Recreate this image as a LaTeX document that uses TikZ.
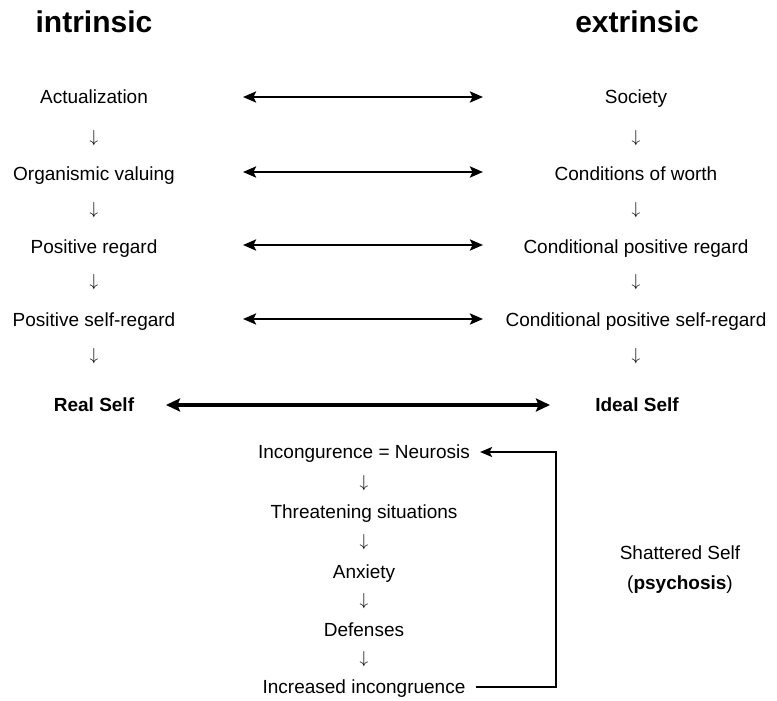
\documentclass[tikz,border=0pt]{standalone}
\usepackage{fontspec}
\setmainfont{Liberation Sans}
\usetikzlibrary{arrows.meta}

\begin{document}
\begin{tikzpicture}[x=1pt,y=-1pt,
  every node/.style={font=\fontsize{19}{22}\selectfont, inner sep=2pt, text depth=0pt, text height=13pt},
  head/.style={font=\fontsize{30}{34}\selectfont\bfseries, text height=21pt},
  self/.style={font=\fontsize{19}{22}\selectfont\bfseries},
  arrowdown/.style={text height=, text depth=},
  link/.style={{Stealth[length=13pt,width=11pt,inset=2.5pt]}-{Stealth[length=13pt,width=11pt,inset=2.5pt]}, line width=2.4pt},
  biglink/.style={{Stealth[length=14pt,width=13pt,inset=2.5pt]}-{Stealth[length=14pt,width=13pt,inset=2.5pt]}, line width=4.4pt},
  back/.style={-{Stealth[length=12pt,width=10pt,inset=2.5pt]}, line width=1.4pt}]

\useasboundingbox (0,0) rectangle (777,701);

\node[head] (intr) at (94,22) {intrinsic};
\node[head] (extr) at (637,22) {extrinsic};

% left column
\node (act) at (94,97) {Actualization};
\node[arrowdown] (l1) at (94,138) {$\downarrow$};
\node (org) at (94,174) {Organismic valuing};
\node[arrowdown] (l2) at (94,210) {$\downarrow$};
\node (pos) at (94,247) {Positive regard};
\node[arrowdown] (l3) at (94,282) {$\downarrow$};
\node (psr) at (94,320) {Positive self-regard};
\node[arrowdown] (l4) at (94,356) {$\downarrow$};
\node[self] (real) at (94,405) {Real Self};

% right column
\node (soc) at (636,97) {Society};
\node[arrowdown] (r1) at (636,138) {$\downarrow$};
\node (cow) at (636,174) {Conditions of worth};
\node[arrowdown] (r2) at (636,210) {$\downarrow$};
\node (cpr) at (636,247) {Conditional positive regard};
\node[arrowdown] (r3) at (636,282) {$\downarrow$};
\node (cpsr) at (636,320) {Conditional positive self-regard};
\node[arrowdown] (r4) at (636,356) {$\downarrow$};
\node[self] (ideal) at (637,405) {Ideal Self};

\coordinate (a1) at (243,97);  \coordinate (b1) at (483,97);
\coordinate (a2) at (243,172); \coordinate (b2) at (483,172);
\coordinate (a3) at (243,245); \coordinate (b3) at (483,245);
\coordinate (a4) at (243,319); \coordinate (b4) at (483,319);
\coordinate (a5) at (166,405); \coordinate (b5) at (550,405);

\draw[link] (a1) -- (b1);
\draw[link] (a2) -- (b2);
\draw[link] (a3) -- (b3);
\draw[link] (a4) -- (b4);
\draw[biglink] (a5) -- (b5);

% incongruence cycle
\node (neur) at (364,452) {Incongurence = Neurosis};
\node[arrowdown] (m1) at (364,483) {$\downarrow$};
\node (thr) at (364,512) {Threatening situations};
\node[arrowdown] (m2) at (364,542) {$\downarrow$};
\node (anx) at (364,572) {Anxiety};
\node[arrowdown] (m3) at (364,601) {$\downarrow$};
\node (def) at (364,630) {Defenses};
\node[arrowdown] (m4) at (364,659) {$\downarrow$};
\node (incr) at (364,687) {Increased incongruence};

\node[align=center, font=\fontsize{19}{30}\selectfont, text height=, text depth=] (shat) at (680,570) {Shattered Self\\(\textbf{psychosis})};

\coordinate (turn) at (556,687);
\draw[back] ([xshift=8pt]incr.east) -- (turn) |- ([xshift=8pt]neur.east);

\end{tikzpicture}
\end{document}
